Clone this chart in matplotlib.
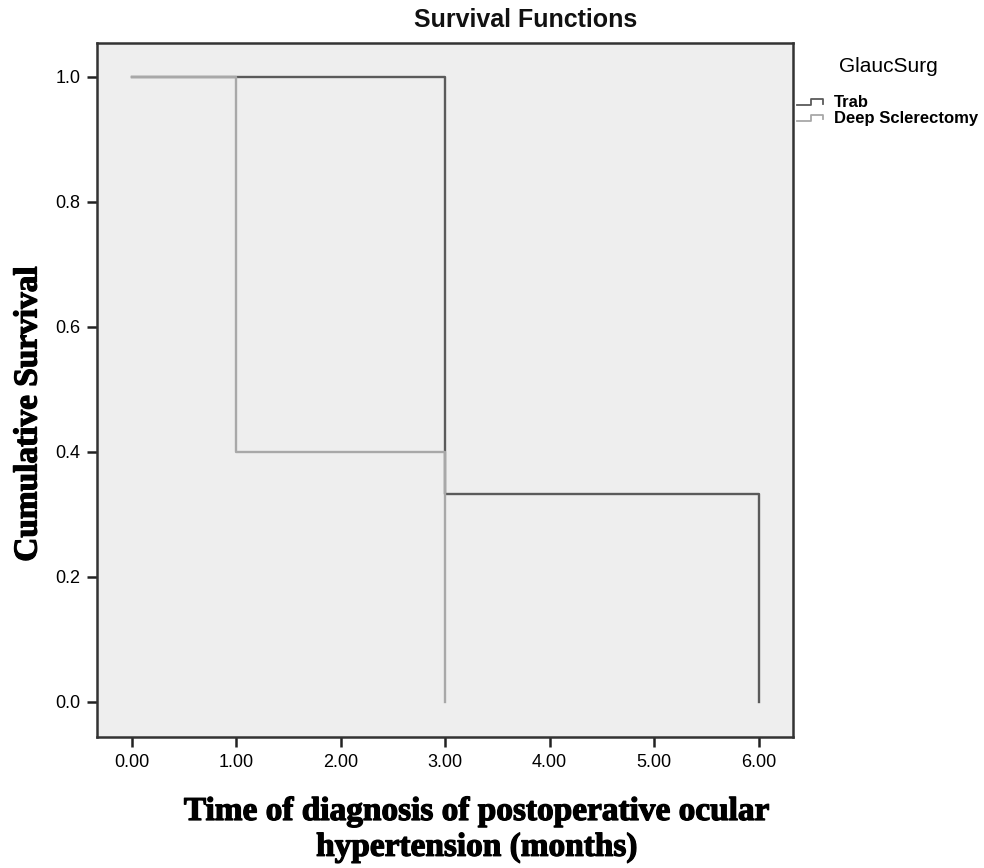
import numpy as np
import matplotlib
matplotlib.use("Agg")
import matplotlib.pyplot as plt
import matplotlib.patheffects as pe
from matplotlib.legend_handler import HandlerBase
from matplotlib.lines import Line2D

# Kaplan-Meier step data (time in months, cumulative survival)
trab_time = [0.0, 3.0, 6.0]
trab_surv = [1.0, 1.0 / 3.0, 0.0]
deep_time = [0.0, 1.0, 3.0]
deep_surv = [1.0, 0.4, 0.0]

x_ticks = [0, 1, 2, 3, 4, 5, 6]
y_ticks = [0.0, 0.2, 0.4, 0.6, 0.8, 1.0]

TRAB_COLOR = "#5a5a5a"
DEEP_COLOR = "#a8a8a8"
BG_COLOR = "#eeeeee"


def km_steps(t, s):
    """Turn event times / survival values into a step path ending at 0."""
    xs, ys = [t[0]], [s[0]]
    for i in range(1, len(t)):
        xs += [t[i], t[i]]
        ys += [s[i - 1], s[i]]
    return xs, ys


class StepHandler(HandlerBase):
    # little step glyph like the SPSS legend
    def create_artists(self, legend, orig_handle, xdescent, ydescent,
                       width, height, fontsize, trans):
        w, h = width, height
        xs = [0, 0.4 * w, 0.4 * w, 0.75 * w, 0.75 * w]
        ys = [0.15 * h, 0.15 * h, 0.7 * h, 0.7 * h, 0.3 * h]
        ln = Line2D(np.array(xs) - xdescent, np.array(ys) - ydescent,
                    color=orig_handle.get_color(), lw=1.3, transform=trans)
        return [ln]


fig = plt.figure(figsize=(9.84, 8.68), dpi=100)
ax = fig.add_axes([97 / 984, 1 - 737 / 868, (793 - 97) / 984, (737 - 43) / 868])
ax.set_facecolor(BG_COLOR)

x1, y1 = km_steps(trab_time, trab_surv)
x2, y2 = km_steps(deep_time, deep_surv)
l1, = ax.plot(x1, y1, color=TRAB_COLOR, lw=1.7, label="Trab")
l2, = ax.plot(x2, y2, color=DEEP_COLOR, lw=1.7, label="Deep Sclerectomy")

ax.set_xlim(-0.335, 6.33)
ax.set_ylim(-0.056, 1.054)
ax.set_xticks(x_ticks)
ax.set_xticklabels([f"{v:.2f}" for v in x_ticks], fontsize=13,
                   family="Liberation Sans")
ax.set_yticks(y_ticks)
ax.set_yticklabels([f"{v:.1f}" for v in y_ticks], fontsize=13,
                   family="Liberation Sans")
ax.tick_params(direction="out", length=7, width=1.8, pad=5, color="#222222")
for sp in ax.spines.values():
    sp.set_linewidth(1.8)
    sp.set_color("#333333")

heavy = [pe.withStroke(linewidth=0.9, foreground="black")]

fig.text(526 / 984, 1 - 20 / 868, "Survival Functions", fontsize=18,
         family="Liberation Sans", fontweight="bold", ha="center", va="center",
         color="#111111")
fig.text(28 / 984, 1 - 414 / 868, "Cumulative Survival", fontsize=24,
         family="Liberation Serif", fontweight="bold", rotation=90,
         ha="center", va="center", path_effects=heavy)
ax.set_xlabel("Time of diagnosis of postoperative ocular\nhypertension (months)",
              fontsize=24, family="Liberation Serif", fontweight="bold",
              linespacing=1.2, path_effects=heavy)
ax.xaxis.set_label_coords((477 - 97) / 696, (737 - 796) / 694)

fig.text(888 / 984, 1 - 67 / 868, "GlaucSurg", fontsize=15,
         family="Liberation Sans", ha="center", va="center")
leg = fig.legend(handles=[l1, l2],
                 handler_map={Line2D: StepHandler()},
                 loc="upper left", bbox_to_anchor=(797 / 984, 1 - 95 / 868),
                 frameon=False, handlelength=2.1, handleheight=0.7,
                 handletextpad=0.1, labelspacing=0.05, borderaxespad=0,
                 borderpad=0,
                 prop={"family": "Liberation Sans", "size": 12,
                       "weight": "bold"})

fig.savefig("out.png", dpi=100, facecolor="white")
